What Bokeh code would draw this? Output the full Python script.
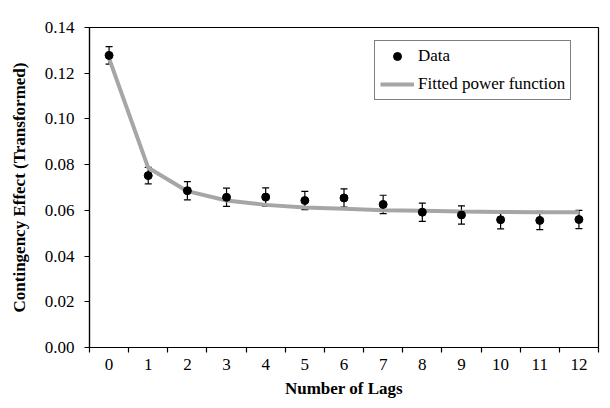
from bokeh.plotting import figure
from bokeh.models import (Range1d, FixedTicker, NumeralTickFormatter, Whisker,
                          ColumnDataSource, Legend, LegendItem, TeeHead)
from bokeh.embed import file_html
from bokeh.resources import INLINE

lags = [0, 1, 2, 3, 4, 5, 6, 7, 8, 9, 10, 11, 12]
data_mean = [0.1278, 0.0752, 0.0686, 0.0657, 0.0658, 0.0643, 0.0654, 0.0626, 0.0592, 0.0580, 0.0559, 0.0556, 0.0560]
data_err = [0.0038, 0.0036, 0.0040, 0.0040, 0.0040, 0.0040, 0.0040, 0.0040, 0.0040, 0.0040, 0.0040, 0.0040, 0.0040]
fitted = [0.1265, 0.0786, 0.0684, 0.0643, 0.0624, 0.0612, 0.0607, 0.0601, 0.0598, 0.0595, 0.0593, 0.0592, 0.0592]
x_tick_labels = [str(v) for v in lags]
y_ticks = [0.0, 0.02, 0.04, 0.06, 0.08, 0.10, 0.12, 0.14]

FONT = "Liberation Serif"

src = ColumnDataSource(dict(
    x=lags, y=data_mean,
    lower=[m - e for m, e in zip(data_mean, data_err)],
    upper=[m + e for m, e in zip(data_mean, data_err)],
    fit=fitted,
))

p = figure(width=610, height=408, output_backend="svg", toolbar_location=None,
           x_range=Range1d(-0.5, 12.5), y_range=Range1d(0, 0.14),
           min_border_left=89, min_border_top=27, min_border_right=12, min_border_bottom=61)

p.xgrid.visible = False
p.ygrid.visible = False
p.outline_line_color = "black"
p.outline_line_width = 1.2
p.background_fill_color = "white"
p.border_fill_color = "white"

# x axis: labels at integers, ticks at category boundaries
xa = p.xaxis[0]
xa.ticker = FixedTicker(ticks=lags, minor_ticks=[v - 0.5 for v in lags] + [lags[-1] + 0.5])
xa.major_label_overrides = {v: s for v, s in zip(lags, x_tick_labels)}
xa.major_tick_line_color = None
xa.major_tick_out = 5
xa.major_tick_in = 0
xa.minor_tick_out = 5
xa.minor_tick_in = 0
xa.minor_tick_line_color = "black"
xa.minor_tick_line_width = 1.2
xa.axis_line_color = "black"
xa.axis_line_width = 1.2
xa.major_label_standoff = 6
xa.axis_label = "Number of Lags"
xa.axis_label_standoff = 6

ya = p.yaxis[0]
ya.ticker = FixedTicker(ticks=y_ticks)
ya.formatter = NumeralTickFormatter(format="0.00")
ya.major_tick_out = 5
ya.major_tick_in = 0
ya.major_tick_line_color = "black"
ya.major_tick_line_width = 1.2
ya.minor_tick_line_color = None
ya.axis_line_color = "black"
ya.axis_line_width = 1.2
ya.major_label_standoff = 10
ya.axis_label = "Contingency Effect (Transformed)"
ya.axis_label_standoff = 13

for ax in (xa, ya):
    ax.major_label_text_font = FONT
    ax.major_label_text_font_size = "17px"
    ax.major_label_text_color = "black"
    ax.axis_label_text_font = FONT
    ax.axis_label_text_font_size = "17px"
    ax.axis_label_text_font_style = "bold"
    ax.axis_label_text_color = "black"

fit_r = p.line("x", "fit", source=src, line_color="#a6a6a6", line_width=4)

wh = Whisker(source=src, base="x", upper="upper", lower="lower",
             line_color="black", line_width=1.2,
             upper_head=TeeHead(size=7, line_color="black", line_width=1.2),
             lower_head=TeeHead(size=7, line_color="black", line_width=1.2))
p.add_layout(wh)

dat_r = p.scatter("x", "y", source=src, size=8, fill_color="black", line_color="black")

legend = Legend(items=[LegendItem(label="Data", renderers=[dat_r]),
                       LegendItem(label="Fitted power function", renderers=[fit_r])],
                location=(285, 247))
legend.label_text_font = FONT
legend.label_text_font_size = "17px"
legend.label_text_color = "black"
legend.border_line_color = "black"
legend.border_line_width = 1.2
legend.padding = 5
legend.spacing = 8
legend.glyph_width = 34
legend.glyph_height = 20
legend.label_height = 20
legend.label_standoff = 4
legend.margin = 0
legend.background_fill_color = "white"
p.add_layout(legend, "center")

with open("out.html", "w") as f:
    f.write(file_html(p, INLINE))
